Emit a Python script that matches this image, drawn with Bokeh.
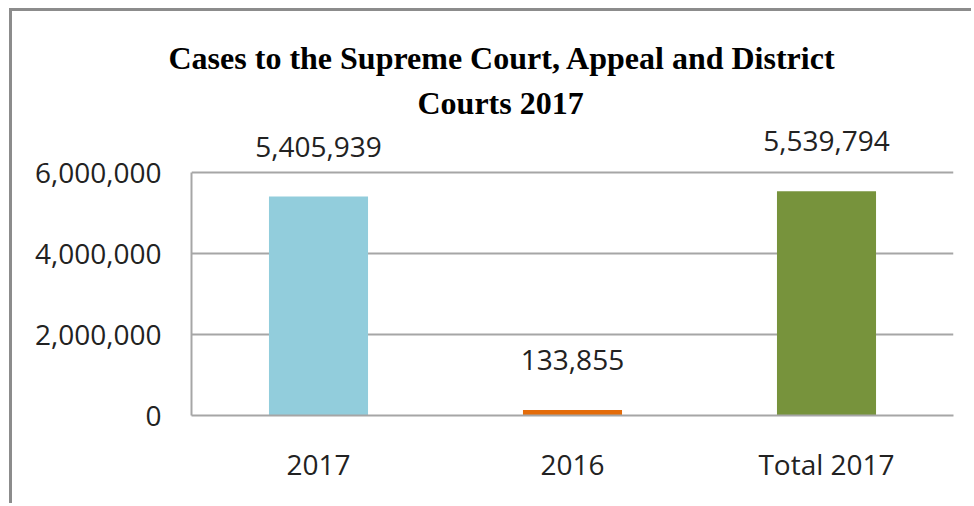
from bokeh.plotting import figure
from bokeh.models import ColumnDataSource, Range1d, FixedTicker, NumeralTickFormatter, LabelSet, Title
from bokeh.core.properties import value
from bokeh.embed import file_html
from bokeh.resources import INLINE

categories = ["2017", "2016", "Total 2017"]
values = [5405939, 133855, 5539794]
colors = ["#92CDDC", "#E46C0A", "#77933C"]
y_ticks = [0, 2000000, 4000000, 6000000]
title_line1 = "Cases to the Supreme Court, Appeal and District"
title_line2 = "Courts 2017"

labels = [f"{v:,}" for v in values]
src = ColumnDataSource(dict(cat=categories, val=values, color=colors, label=labels))

SANS = "Open Sans"
SERIF = "Liberation Serif"
GRAY = "#a6a6a6"
TXT = "#222222"

# frame extends above the top tick so the value labels fit inside it
y_max = y_ticks[-1] * 291 / 243

p = figure(x_range=categories, y_range=Range1d(0, y_max), width=962, height=495,
           min_border_left=179, min_border_right=21, min_border_top=113, min_border_bottom=91,
           output_backend="svg", toolbar_location=None, title=None)
p.styles = {"border-left": "3px solid #8c8c8c", "border-top": "3px solid #8c8c8c",
            "margin-left": "9px", "margin-top": "8px"}
p.outline_line_color = None
p.background_fill_color = "white"
p.border_fill_color = "white"

p.vbar(x="cat", top="val", width=0.39, fill_color="color", line_color=None, source=src)

p.xgrid.grid_line_color = None
p.ygrid.grid_line_color = GRAY
p.ygrid.grid_line_width = 2
p.yaxis.ticker = FixedTicker(ticks=y_ticks)
p.yaxis.formatter = NumeralTickFormatter(format="0,0")
p.yaxis.bounds = (y_ticks[0], y_ticks[-1])

for ax in (p.xaxis, p.yaxis):
    ax.axis_line_color = GRAY
    ax.axis_line_width = 2
    ax.major_tick_line_color = None
    ax.minor_tick_line_color = None
    ax.major_label_text_font = SANS
    ax.major_label_text_font_size = "28px"
    ax.major_label_text_color = TXT
p.yaxis.major_label_standoff = 24
p.xaxis.major_label_standoff = 23

p.add_layout(LabelSet(x="cat", y="val", text="label", y_offset=50, text_align="center",
                      text_baseline="middle", text_font=value(SANS), text_font_size="28px",
                      text_color=TXT, source=src))

t2 = Title(text=title_line2, align="left", offset=226, standoff=8, text_font=SERIF,
           text_font_style="bold", text_font_size="32px", text_color="black")
t1 = Title(text=title_line1, align="left", offset=-23, standoff=6, text_font=SERIF,
           text_font_style="bold", text_font_size="32px", text_color="black")
p.add_layout(t2, "above")
p.add_layout(t1, "above")

open("out.html", "w").write(file_html(p, INLINE))
